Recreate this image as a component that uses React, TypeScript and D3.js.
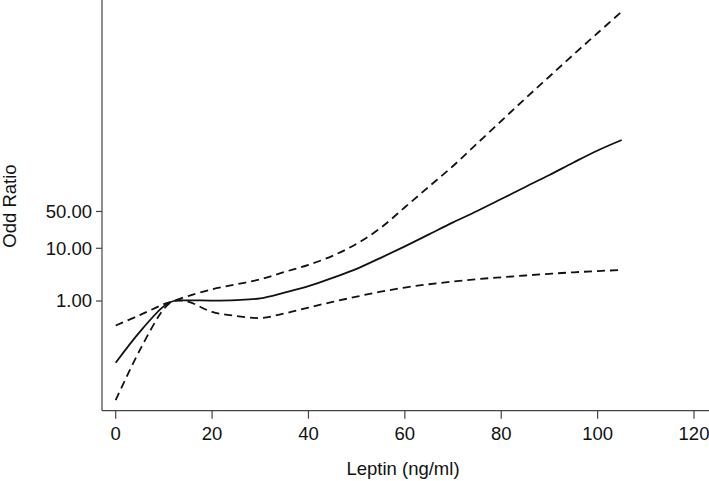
import React from "react";
import * as d3 from "d3";

const leptin = [0, 5, 10, 12, 15, 20, 25, 30, 35, 40, 45, 50, 55, 60, 65, 70, 75, 80, 85, 90, 95, 100, 105];
const orEstimate = [0.0675, 0.26, 0.8, 1.0, 1.03, 1.02, 1.04, 1.12, 1.44, 1.91, 2.75, 4.08, 6.6, 10.9, 18.4, 31, 51, 86, 146, 246, 425, 718, 1135];
const orUpper = [0.343, 0.54, 0.87, 1.0, 1.24, 1.67, 2.07, 2.57, 3.55, 4.85, 7.2, 12.2, 24.5, 60, 148, 365, 975, 2606, 6966, 18200, 47500, 121600, 311000];
const orLower = [0.0132, 0.117, 0.705, 1.0, 0.97, 0.62, 0.52, 0.476, 0.58, 0.75, 0.96, 1.21, 1.5, 1.8, 2.08, 2.34, 2.6, 2.82, 3.05, 3.28, 3.5, 3.7, 3.88];

const xTicks = [0, 20, 40, 60, 80, 100, 120];
const yTicks = [1, 10, 50];
const yTickLabels = ["1.00", "10.00", "50.00"];
const xTitle = "Leptin (ng/ml)";
const yTitle = "Odd Ratio";

export default function App() {
  const W = 709, H = 481;
  const axisX = 102, axisY = 410.7;
  const x = d3.scaleLinear().domain([0, 120]).range([115.7, 694]);
  const y = d3.scaleLog().domain([Math.pow(10, -2.0816), Math.pow(10, 5.7116)]).range([axisY, 0]);
  const font = "'Liberation Sans', Arial, sans-serif";
  const mk = (vals: number[]) =>
    d3.line<number>()
      .x((_, i) => x(leptin[i]))
      .y((v) => y(v))
      .curve(d3.curveCatmullRom.alpha(0.5))(vals) as string;
  const axisColor = "#444";
  const fs = 18.5;
  return (
    <>
      <style>{`body{margin:0}`}</style>
      <svg width={W} height={H} style={{ display: "block", background: "#fff" }} fontFamily={font}>
        <line x1={axisX} y1={0} x2={axisX} y2={axisY} stroke={axisColor} strokeWidth={1.2} />
        <line x1={axisX} y1={axisY} x2={W} y2={axisY} stroke={axisColor} strokeWidth={1.2} />
        {xTicks.map((t) => (
          <g key={t}>
            <line x1={x(t)} x2={x(t)} y1={axisY} y2={axisY + 8} stroke={axisColor} strokeWidth={1.2} />
            <text x={x(t)} y={440} textAnchor="middle" fontSize={fs} fill="#111">{t}</text>
          </g>
        ))}
        {yTicks.map((t, i) => (
          <g key={t}>
            <line x1={axisX - 6} x2={axisX} y1={y(t)} y2={y(t)} stroke={axisColor} strokeWidth={1.2} />
            <text x={92} y={y(t)} dy="0.35em" textAnchor="end" fontSize={fs} fill="#111">{yTickLabels[i]}</text>
          </g>
        ))}
        <text x={403} y={475} textAnchor="middle" fontSize={fs} fill="#111">{xTitle}</text>
        <text transform={`translate(16,206) rotate(-90)`} textAnchor="middle" fontSize={fs} fill="#111">{yTitle}</text>
        <path d={mk(orUpper)} fill="none" stroke="#111" strokeWidth={1.8} strokeDasharray="8,5" />
        <path d={mk(orLower)} fill="none" stroke="#111" strokeWidth={1.8} strokeDasharray="8,5" />
        <path d={mk(orEstimate)} fill="none" stroke="#111" strokeWidth={1.8} />
      </svg>
    </>
  );
}
